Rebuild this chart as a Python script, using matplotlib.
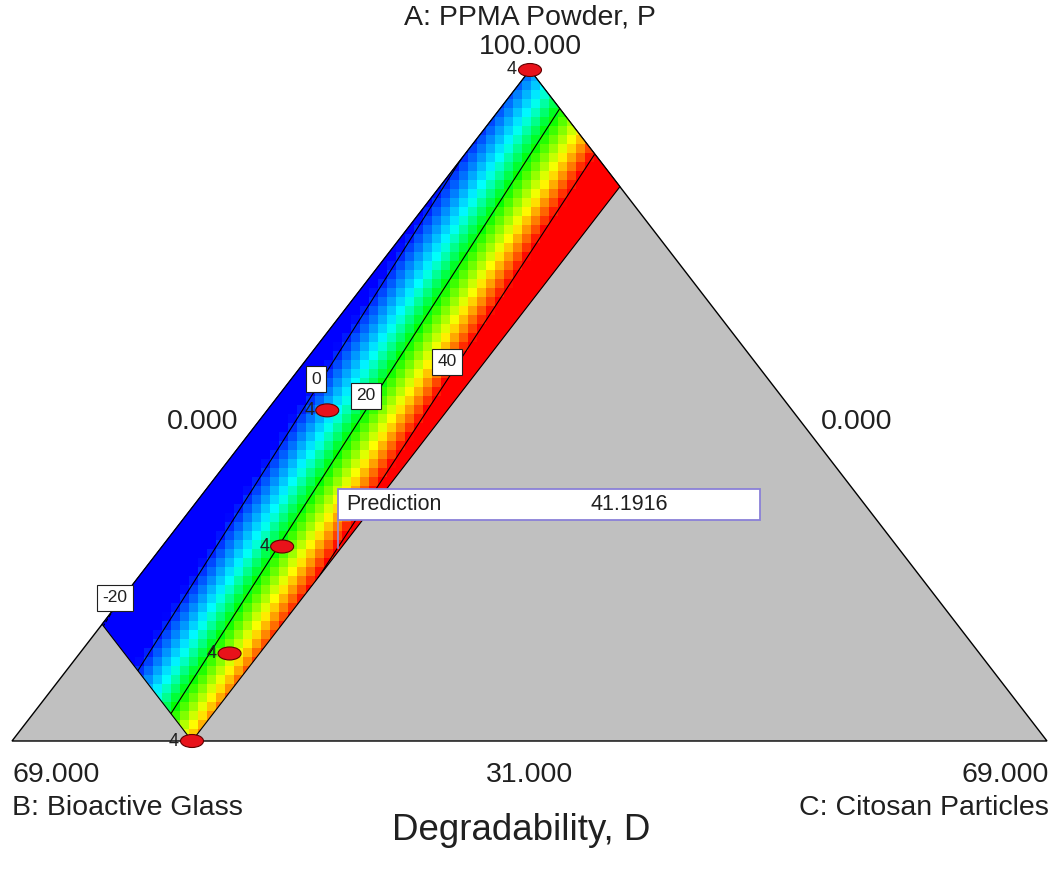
import numpy as np
import matplotlib
matplotlib.use("Agg")
import matplotlib.pyplot as plt
from matplotlib.colors import LinearSegmentedColormap, Normalize
from matplotlib.patches import Polygon, Ellipse, Rectangle

plt.rcParams['font.family'] = ['Liberation Sans', 'DejaVu Sans']

# ---------------- data (real component units, %) ----------------
A_LOW = 31.0          # A ranges 31..100, B and C 0..69
SPAN = 69.0

# feasible region vertices (A, C); B = 100 - A - C
region_A = [100.0, 88.0, 31.0, 43.0]
region_C = [0.0, 12.0, 12.0, 0.0]

# design points (A, C) and replicate counts
design_A = [100.0, 65.0, 51.0, 40.0, 31.0]
design_C = [0.0, 4.0, 8.0, 10.0, 12.0]
design_n = ["4", "4", "4", "4", "4"]

# contour readings: (A, C) -> Degradability D
contour_A = [88.7, 78.4, 68.1, 49.6, 37.9,
             95.9, 88.7, 85.6, 74.3, 72.5, 59.9, 57.8, 46.2, 43.4, 34.2,
             91.4, 85.6, 83.0, 72.3, 68.1, 58.1, 53.1,
             50.8, 45.5]
contour_C = [0.52, 0.81, 1.73, 3.66, 5.04,
             4.06, 4.66, 5.01, 5.73, 5.94, 6.97, 7.23, 8.28, 8.31, 8.97,
             8.27, 9.07, 9.16, 10.35, 10.63, 11.41, 11.52,
             11.80, 0.0]
contour_D = [0, 0, 0, 0, 0,
             20, 20, 20, 20, 20, 20, 20, 20, 20, 20,
             40, 40, 40, 40, 40, 40, 40,
             41.1916, -20]

levels = [-20, 0, 20, 40]
level_labels = ["-20", "0", "20", "40"]

pred_A, pred_C = 50.8, 11.8
pred_label = "Prediction"
pred_value = "41.1916"

axis_title = "Degradability, D"
label_A = "A: PPMA Powder, P"
label_B = "B: Bioactive Glass"
label_C = "C: Citosan Particles"
tick_A_top, tick_left, tick_right = "100.000", "0.000", "0.000"
tick_bl, tick_bc, tick_br = "69.000", "31.000", "69.000"

# ---------------- geometry ----------------
TOP = (530.0, 70.0)
BL = (12.0, 741.0)
BR = (1047.0, 741.0)


def to_xy(A, C):
    a = (np.asarray(A, float) - A_LOW) / SPAN
    c = np.asarray(C, float) / SPAN
    x = BL[0] + (BR[0] - BL[0]) * c + (TOP[0] - BL[0]) * a
    y = BL[1] + (TOP[1] - BL[1]) * a
    return x, y


def to_ac(x, y):
    a = (y - BL[1]) / (TOP[1] - BL[1])
    c = (x - BL[0] - (TOP[0] - BL[0]) * a) / (BR[0] - BL[0])
    return a, c


def feats(a, c):
    return np.stack([np.ones_like(a), a, c, a * a, a * c, c * c], axis=-1)


# quadratic mixture model fitted to the readings
ca = (np.array(contour_A) - A_LOW) / SPAN
cc = np.array(contour_C) / SPAN
coef, *_ = np.linalg.lstsq(feats(ca, cc), np.array(contour_D, float), rcond=None)


def model(x, y):
    a, c = to_ac(x, y)
    return feats(a, c) @ coef


# ---------------- figure ----------------
fig = plt.figure(figsize=(10.58, 8.82), dpi=100)
ax = fig.add_axes([0, 0, 1, 1])
ax.set_xlim(0, 1058)
ax.set_ylim(882, 0)
ax.axis('off')

tri = Polygon([TOP, BL, BR], closed=True, facecolor='#c0c0c0',
              edgecolor='black', linewidth=1.0, zorder=1)
ax.add_patch(tri)

rx, ry = to_xy(region_A, region_C)
region = Polygon(np.column_stack([rx, ry]), closed=True, facecolor='none',
                 edgecolor='black', linewidth=0.8, zorder=4)
ax.add_patch(region)

cmap = LinearSegmentedColormap.from_list(
    'de', [(0.0, '#0000ff'), (0.31, '#00ffff'), (0.524, '#00ff00'),
           (0.762, '#ffff00'), (1.0, '#ff0000')])
norm = Normalize(vmin=-2, vmax=40)

cell = 9
xe = np.arange(0, 1058 + cell, cell)
ye = np.arange(0, 882 + cell, cell)
XC, YC = np.meshgrid((xe[:-1] + xe[1:]) / 2, (ye[:-1] + ye[1:]) / 2)
mesh = ax.pcolormesh(xe, ye, model(XC, YC), cmap=cmap, norm=norm,
                     shading='flat', zorder=2)
mesh.set_clip_path(region)

xf = np.linspace(0, 1058, 1059)
yf = np.linspace(0, 882, 883)
XF, YF = np.meshgrid(xf, yf)
cs = ax.contour(XF, YF, model(XF, YF), levels=levels, colors='black',
                linewidths=0.8, zorder=3)
cs.set_clip_path(region)

# contour labels (boxes)
label_pos = [(115, 598), (316, 379), (366, 396), (447, 362)]
for (lx, ly), txt in zip(label_pos, level_labels):
    ax.text(lx, ly, txt, fontsize=12.5, ha='center', va='center', zorder=6,
            color='#202020',
            bbox=dict(boxstyle='square,pad=0.3', facecolor='white',
                      edgecolor='#202020', linewidth=0.8))

# design points
dx, dy = to_xy(design_A, design_C)
for x, y, n in zip(dx, dy, design_n):
    ax.add_patch(Ellipse((x, y), 23, 13, facecolor='#e8121a',
                         edgecolor='#600000', linewidth=0.8, zorder=7))
    ax.text(x - 13, y, n, fontsize=13, ha='right', va='center', zorder=7,
            color='#202020')

# prediction flag
px, py = to_xy(pred_A, pred_C)
box_bottom = py - 28
ax.plot([px, px], [py, box_bottom], color='#9a8ad8', linewidth=1.2, zorder=8)
ax.add_patch(Rectangle((px, box_bottom - 31), 422, 31, facecolor='white',
                       edgecolor='#8a80d8', linewidth=1.3, zorder=8))
ax.text(px + 9, box_bottom - 15.5, pred_label, fontsize=15.5, ha='left',
        va='center', zorder=9, color='#202020')
ax.text(px + 292, box_bottom - 15.5, pred_value, fontsize=15.5, ha='center',
        va='center', zorder=9, color='#202020')

# axis texts
fs = 20.5
ax.text(530, 18, label_A, fontsize=fs, ha='center', va='center', color='#202020')
ax.text(530, 47, tick_A_top, fontsize=fs, ha='center', va='center', color='#202020')
ax.text(203, 422, tick_left, fontsize=fs, ha='center', va='center', color='#202020')
ax.text(857, 422, tick_right, fontsize=fs, ha='center', va='center', color='#202020')
ax.text(12, 775, tick_bl, fontsize=fs, ha='left', va='center', color='#202020')
ax.text(530, 775, tick_bc, fontsize=fs, ha='center', va='center', color='#202020')
ax.text(1049, 775, tick_br, fontsize=fs, ha='right', va='center', color='#202020')
ax.text(12, 808, label_B, fontsize=fs, ha='left', va='center', color='#202020')
ax.text(1049, 808, label_C, fontsize=fs, ha='right', va='center', color='#202020')
ax.text(521, 830, axis_title, fontsize=26.5, ha='center', va='center', color='#202020')

fig.savefig('out.png', dpi=100)
